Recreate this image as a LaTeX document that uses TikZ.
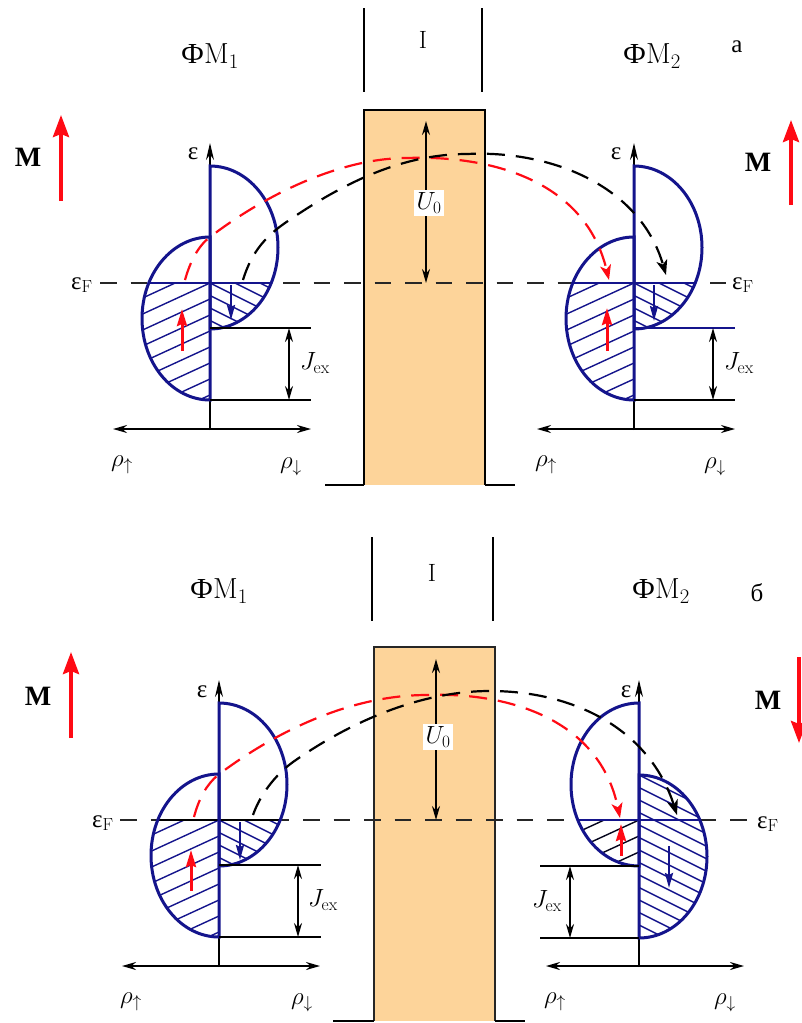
\documentclass[tikz,border=0pt]{standalone}
\usepackage{fontspec}
\newfontfamily\cyr{Liberation Serif}
\usetikzlibrary{arrows.meta}
\definecolor{dosblue}{HTML}{14148C}
\definecolor{barrier}{HTML}{FDD49A}
\definecolor{mred}{HTML}{FF0A14}
\newcommand{\halfpath}[3]{(#1,#2) .. controls ({#1+#3*37.6},#2) and ({#1+#3*68},{#2+36.5}) .. ({#1+#3*68},{#2+81.5}) .. controls ({#1+#3*68},{#2+126.5}) and ({#1+#3*37.6},{#2+163}) .. (#1,{#2+163}) -- cycle}
% hatch: x, ytop, side, yF(clip top), slope, spacing, colour
\newcommand{\hatchhalf}[7]{\begin{scope}
  \clip \halfpath{#1}{#2}{#3};
  \clip (#1-90,#4) rectangle (#1+90,#2+170);
  \foreach \k in {-14,...,22}{
    \draw[#7,line width=1.4pt] ({#1-90},{#4+\k*#6-90*#5}) -- ({#1+90},{#4+\k*#6+90*#5});
  }
\end{scope}}
\tikzset{
  lbl/.style={inner sep=0pt,font=\fontsize{25}{27}\selectfont},
  big/.style={inner sep=0pt,font=\fontsize{29}{31}\selectfont},
  mlab/.style={inner sep=0pt,font=\fontsize{28}{30}\cyr\bfseries\selectfont},
  dosline/.style={draw=dosblue,line width=3pt},
  blk/.style={draw=black,line width=1.7pt},
  dbl/.style={draw=black,line width=1.8pt,{Stealth[length=14pt,width=8pt]}-{Stealth[length=14pt,width=8pt]}},
  upax/.style={draw=black,line width=1.6pt,-{Stealth[length=17pt,width=8pt]}},
  fermi/.style={draw=black!85,line width=1.8pt,dash pattern=on 16.5pt off 14pt},
  mag/.style={draw=mred,line width=3.8pt,-{Stealth[length=22pt,width=16pt,inset=3pt]}},
  spinr/.style={draw=mred,line width=3pt,-{Stealth[length=17pt,width=10pt,inset=2pt]}},
  spinb/.style={draw=dosblue,line width=2.4pt,-{Stealth[length=15pt,width=8pt,inset=2pt]}},
  redpath/.style={draw=mred,line width=2.2pt,dash pattern=on 18pt off 11pt,-{Stealth[length=15pt,width=11pt,inset=4pt]}},
  blackpath/.style={draw=black,line width=2.2pt,dash pattern=on 18pt off 11pt,-{Stealth[length=15pt,width=11pt,inset=4pt]}},
}
\begin{document}
\begin{tikzpicture}[x=1pt,y=-1pt]
\useasboundingbox (0,0) rectangle (801,1023);
\fill[white] (0,0) rectangle (801,1023);

% ===== panel a =====
\draw[blk] (364,8) -- (364,92);
\draw[blk] (482,8) -- (482,92);
\node[lbl] (ia) at (423,40) {I};
\node[big] (fm1a) at (210,56) {{\cyr Ф}M$_1$};
\node[big] (fm2a) at (652,56) {{\cyr Ф}M$_2$};
\node[lbl] (la) at (737,47) {\cyr а};
\filldraw[fill=barrier,draw=black,line width=1.8pt] (364,485) -- (364,110) -- (485,110) -- (485,485);
\draw[blk] (325,485) -- (364,485);
\draw[blk] (485,485) -- (515,485);

\hatchhalf{210}{237}{-1}{283}{-0.46}{16}{dosblue}
\hatchhalf{210}{166}{1}{283}{0.5}{12.5}{dosblue}
\hatchhalf{634}{237}{-1}{283}{-0.46}{16}{dosblue}
\hatchhalf{634}{166}{1}{283}{0.5}{12.5}{dosblue}

\draw[fermi] (100,283) -- (726,283);
\draw[dosline,line width=2.2pt] (149,283) -- (272,283);
\draw[dosline,line width=2.2pt] (573,283) -- (696,283);

\draw[upax] (210,430) -- (210,143);
\draw[upax] (634,430) -- (634,143);
\draw[dosline] \halfpath{210}{237}{-1};
\draw[dosline] \halfpath{210}{166}{1};
\draw[dosline] \halfpath{634}{237}{-1};
\draw[dosline] \halfpath{634}{166}{1};

\draw[dbl] (113,429) -- (311,429);
\draw[dbl] (537,429) -- (735,429);
\draw[blk] (210,328) -- (311,328);
\draw[blk] (210,400) -- (311,400);
\draw[dosblue,line width=1.7pt] (634,328) -- (735,328);
\draw[blk] (634,400) -- (735,400);
\draw[dbl] (289,328) -- (289,400);
\draw[dbl] (713,328) -- (713,400);
\draw[dbl] (426,121) -- (426,283);
\node[lbl,fill=white,inner sep=3pt] (u0a) at (429,203) {$U_0$};

\node[lbl] (ea1) at (193,154) {\cyr ε};
\node[lbl] (ea2) at (616,154) {\cyr ε};
\node[lbl] (efa1) at (82,285) {{\cyr ε}$_{\mathrm F}$};
\node[lbl] (efa2) at (743,285) {{\cyr ε}$_{\mathrm F}$};
\node[lbl] (ja1) at (315,363) {$J_{\mathrm{ex}}$};
\node[lbl] (ja2) at (739,363) {$J_{\mathrm{ex}}$};
\node[lbl] (rua1) at (122,465) {$\rho_\uparrow$};
\node[lbl] (rda1) at (291,467) {$\rho_\downarrow$};
\node[lbl] (rua2) at (546,465) {$\rho_\uparrow$};
\node[lbl] (rda2) at (715,467) {$\rho_\downarrow$};
\node[mlab] (ma1) at (28,157) {M};
\node[mlab] (ma2) at (758,162) {M};
\draw[mag] (61,201) -- (61,115);
\draw[mag] (791,205) -- (791,120);

\draw[spinr] (182,351) -- (182,309);
\draw[spinb] (231,285) -- (231,320);
\draw[spinr] (607,351) -- (607,308);
\draw[spinb] (654,285) -- (654,321);

\draw[redpath] (185,280) .. controls (190,262) and (198,246) .. (210,237) .. controls (265,195) and (340,158) .. (407,158) .. controls (490,155) and (585,180) .. (609,280);
\draw[blackpath] (243,280) .. controls (252,250) and (268,235) .. (285,223) .. controls (340,185) and (400,154) .. (467,154) .. controls (550,150) and (640,185) .. (666,275);

% ===== panel b =====
\draw[blk] (372,537) -- (372,621);
\draw[blk] (493,537) -- (493,621);
\node[lbl] (ib) at (432,573) {I};
\node[big] (fm1b) at (219,591) {{\cyr Ф}M$_1$};
\node[big] (fm2b) at (661,591) {{\cyr Ф}M$_2$};
\node[lbl] (lb) at (757,593) {\cyr б};
\filldraw[fill=barrier,draw=black!85,line width=1.8pt] (374,1021) -- (374,647) -- (495,647) -- (495,1021);
\draw[blk] (333,1021) -- (374,1021);
\draw[blk] (495,1021) -- (525,1021);

\hatchhalf{219}{774}{-1}{820}{-0.46}{16}{dosblue}
\hatchhalf{219}{703}{1}{820}{0.5}{12.5}{dosblue}
\hatchhalf{639}{703}{-1}{820}{-0.46}{16}{black!80!dosblue}
\hatchhalf{639}{775}{1}{775}{0.5}{12.5}{dosblue}

\draw[fermi] (120,820) -- (750,820);
\draw[black,line width=2.4pt] (158,820) -- (281,820);
\draw[dosline,line width=2.2pt] (578,820) -- (701,820);

\draw[upax] (219,967) -- (219,680);
\draw[upax] (639,967) -- (639,680);
\draw[dosline] \halfpath{219}{774}{-1};
\draw[dosline] \halfpath{219}{703}{1};
\draw[dosline] \halfpath{639}{703}{-1};
\draw[dosline] \halfpath{639}{775}{1};

\draw[dbl] (122,966) -- (320,966);
\draw[dbl] (546,966) -- (744,966);
\draw[blk] (219,865) -- (321,865);
\draw[blk] (219,937) -- (321,937);
\draw[blk] (540,866) -- (639,866);
\draw[blk] (540,938) -- (639,938);
\draw[dbl] (298,865) -- (298,937);
\draw[dbl] (570,866) -- (570,938);
\draw[dbl] (436,659) -- (436,820);
\node[lbl,fill=white,inner sep=3pt] (u0b) at (438,737) {$U_0$};

\node[lbl] (eb1) at (202,692) {\cyr ε};
\node[lbl] (eb2) at (626,692) {\cyr ε};
\node[lbl] (efb1) at (103,823) {{\cyr ε}$_{\mathrm F}$};
\node[lbl] (efb2) at (768,824) {{\cyr ε}$_{\mathrm F}$};
\node[lbl] (jb1) at (323,900) {$J_{\mathrm{ex}}$};
\node[lbl] (jb2) at (547,901) {$J_{\mathrm{ex}}$};
\node[lbl] (rub1) at (131,1002) {$\rho_\uparrow$};
\node[lbl] (rdb1) at (302,1003) {$\rho_\downarrow$};
\node[lbl] (rub2) at (555,1002) {$\rho_\uparrow$};
\node[lbl] (rdb2) at (725,1003) {$\rho_\downarrow$};
\node[mlab] (mb1) at (38,696) {M};
\node[mlab] (mb2) at (768,700) {M};
\draw[mag] (71,738) -- (71,652);
\draw[mag] (799,657) -- (799,743);

\draw[spinr] (191,891) -- (191,850);
\draw[spinb] (240,822) -- (240,860);
\draw[spinr] (621,856) -- (621,824);
\draw[spinb] (669,846) -- (669,888);

\draw[redpath] (194,817) .. controls (199,798) and (207,784) .. (218,775) .. controls (275,732) and (350,695) .. (427,695) .. controls (510,692) and (600,720) .. (620,818);
\draw[blackpath] (253,815) .. controls (260,795) and (275,775) .. (293,762) .. controls (350,722) and (420,691) .. (490,691) .. controls (575,691) and (650,730) .. (677,815);
\end{tikzpicture}
\end{document}
